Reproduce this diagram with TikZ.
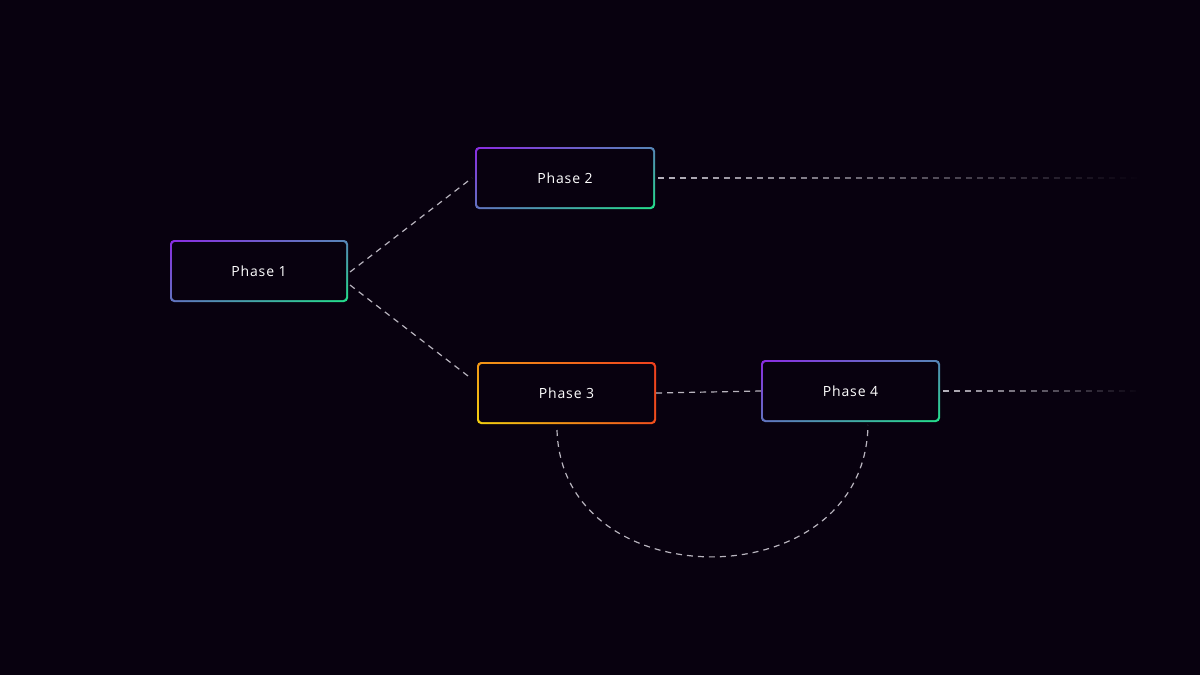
\documentclass[tikz,border=0pt]{standalone}
\usepackage{fontspec}
\setmainfont{Open Sans}
\usetikzlibrary{fadings,shadings}
\definecolor{bg}{HTML}{08010F}
\definecolor{pur}{HTML}{8A2BE2}
\definecolor{grn}{HTML}{22E08A}
\definecolor{yel}{HTML}{F2D010}
\definecolor{red}{HTML}{F0401E}
\definecolor{dsh}{HTML}{B8B4BE}
\tikzset{conn/.style={draw=dsh,line width=1.2pt,dash pattern=on 6pt off 5pt},
 lbl/.style={text=white,font=\fontsize{14}{16}\selectfont\addfontfeature{LetterSpace=6}}}
\newcommand{\gbox}[6]{% name, x1,y1,x2,y2, text
 \shade[rounded corners=4pt,upper left=pur,lower right=grn,upper right=grn!50!pur,lower left=pur!60!grn] (#2,#3) rectangle (#4,#5);
 \fill[bg,rounded corners=3pt] (#2+2,#3+2) rectangle (#4-2,#5-2);
 \node[lbl,minimum width=#4-#2,minimum height=#5-#3,inner sep=0] (#1) at ({(#2+#4)/2},{(#3+#5)/2}) {#6};}
\begin{document}
\begin{tikzpicture}[x=1pt,y=-1pt]
\fill[bg] (0,0) rectangle (1200,675);
\useasboundingbox (0,0) rectangle (1200,675);
\gbox{p1}{170}{240}{348}{302}{Phase 1}
\gbox{p2}{475}{147}{655}{209}{Phase 2}
\gbox{p4}{761}{360}{940}{422}{Phase 4}
\shade[rounded corners=4pt,upper left=yel!60!red,lower left=yel,upper right=red,lower right=red!90!yel] (477,362) rectangle (656,424);
\fill[bg,rounded corners=3pt] (479,364) rectangle (654,422);
\node[lbl,minimum width=179,minimum height=62,inner sep=0] (p3) at (566.5,393) {Phase 3};
\coordinate (a1) at (350,272); \coordinate (a2) at (472,178);
\coordinate (b1) at (350,285); \coordinate (b2) at (468,376);
\draw[conn] (a1) -- (a2);
\draw[conn] (b1) -- (b2);
\draw[conn] (p3.east) -- (p4.west);
\coordinate (e2) at (1140,178); \coordinate (e4) at (1140,391);
\draw[conn,path fading=east] ([xshift=3pt]p2.east) -- (e2);
\draw[conn,path fading=east] (943,391) -- (e4);
\coordinate (c1) at (557,430); \coordinate (c2) at (868,425);
\draw[conn] (c1) .. controls (562,600) and (865,600) .. (c2);
\end{tikzpicture}
\end{document}
